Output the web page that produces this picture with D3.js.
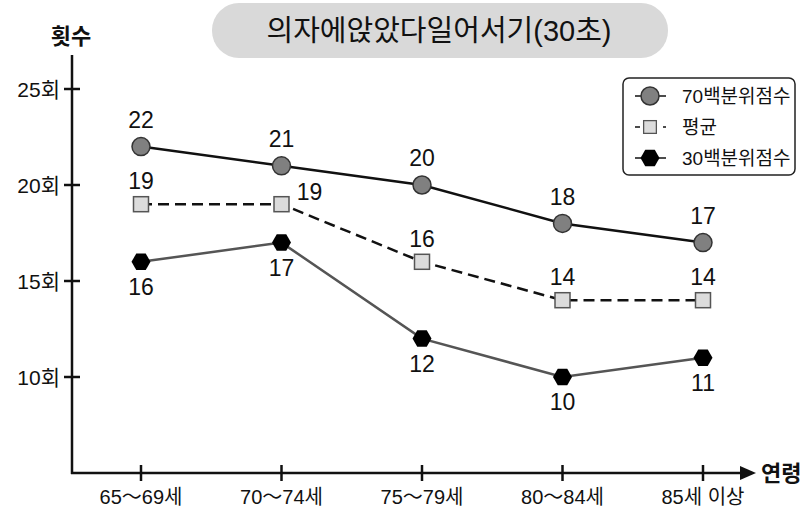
<!DOCTYPE html>
<html>
  <head>
    <meta charset="utf-8" />
    <script src="https://cdnjs.cloudflare.com/ajax/libs/d3/7.8.5/d3.min.js"></script>
    <style>
      body {
        margin: 0;
        background: #fff;
      }
      text {
        font-family: "Liberation Sans", "Noto Sans CJK KR", sans-serif;
        fill: #111;
      }
    </style>
  </head>
  <body>
    <div id="chart"></div>
    <script>
      // 데이터
      const title = "의자에앉았다일어서기(30초)";
      const ages = ["65～69세", "70～74세", "75～79세", "80～84세", "85세 이상"];
      const p70 = [22, 21, 20, 18, 17];
      const avg = [19, 19, 16, 14, 14];
      const p30 = [16, 17, 12, 10, 11];
      const yTicks = [10, 15, 20, 25];
      const seriesNames = ["70백분위점수", "평균", "30백분위점수"];

      const width = 806;
      const height = 511;

      const svg = d3
        .select("#chart")
        .append("svg")
        .attr("width", width)
        .attr("height", height);

      // 스케일
      const x = d3.scalePoint().domain(ages).range([141, 703]);
      const y = d3.scaleLinear().domain([5, 25]).range([473, 89]);

      // 제목 박스
      svg
        .append("rect")
        .attr("x", 212)
        .attr("y", 3)
        .attr("width", 456)
        .attr("height", 55)
        .attr("rx", 27)
        .attr("fill", "#d9d9d9");
      svg
        .append("text")
        .attr("x", 439)
        .attr("y", 31)
        .attr("dy", "0.36em")
        .attr("text-anchor", "middle")
        .style("font-size", "29px")
        .style("font-weight", "400")
        .text(title);

      // 축
      const axisG = svg.append("g").attr("stroke", "#111").attr("stroke-width", 2.5);
      axisG.append("line").attr("x1", 72).attr("x2", 72).attr("y1", 55).attr("y2", 474);
      axisG.append("line").attr("x1", 71).attr("x2", 744).attr("y1", 473).attr("y2", 473);
      svg
        .append("path")
        .attr("d", "M740,466 L756,473 L740,480 Z")
        .attr("fill", "#111");

      yTicks.forEach((t) => {
        axisG.append("line").attr("x1", 64).attr("x2", 80).attr("y1", y(t)).attr("y2", y(t));
        svg
          .append("text")
          .attr("x", 60)
          .attr("y", y(t))
          .attr("dy", "0.36em")
          .attr("text-anchor", "end")
          .style("font-size", "21px")
          .text(t + "회");
      });

      ages.forEach((a) => {
        axisG.append("line").attr("x1", x(a)).attr("x2", x(a)).attr("y1", 465).attr("y2", 481);
        svg
          .append("text")
          .attr("x", x(a))
          .attr("y", 497)
          .attr("dy", "0.36em")
          .attr("text-anchor", "middle")
          .style("font-size", "20px")
          .text(a);
      });

      svg
        .append("text")
        .attr("x", 71)
        .attr("y", 36)
        .attr("dy", "0.36em")
        .attr("text-anchor", "middle")
        .style("font-size", "22px")
        .style("font-weight", "700")
        .text("횟수");
      svg
        .append("text")
        .attr("x", 761)
        .attr("y", 473)
        .attr("dy", "0.36em")
        .style("font-size", "22px")
        .style("font-weight", "700")
        .text("연령");

      // 마커
      const hexPath = (r) => {
        const pts = d3.range(6).map((i) => {
          const a = (Math.PI / 3) * i;
          return [r * Math.cos(a), r * Math.sin(a)];
        });
        return "M" + pts.join("L") + "Z";
      };
      const drawMarker = (g, kind) => {
        if (kind === 0) {
          g.append("circle").attr("r", 9).attr("fill", "#808080").attr("stroke", "#333").attr("stroke-width", 1.5);
        } else if (kind === 1) {
          g.append("rect").attr("x", -7.5).attr("y", -7.5).attr("width", 15).attr("height", 15)
            .attr("fill", "#dcdcdc").attr("stroke", "#555").attr("stroke-width", 1.5);
        } else {
          g.append("path").attr("d", hexPath(9.5)).attr("fill", "#000");
        }
      };

      const series = [
        { values: p70, color: "#111", dash: null, labelDy: -27 },
        { values: avg, color: "#111", dash: "11,6", labelDy: -23 },
        { values: p30, color: "#555", dash: null, labelDy: 25 },
      ];

      const line = d3
        .line()
        .x((d, i) => x(ages[i]))
        .y((d) => y(d));

      series.forEach((s, k) => {
        svg
          .append("path")
          .attr("d", line(s.values))
          .attr("fill", "none")
          .attr("stroke", s.color)
          .attr("stroke-width", 2.5)
          .attr("stroke-dasharray", s.dash);

        s.values.forEach((v, i) => {
          const g = svg.append("g").attr("transform", `translate(${x(ages[i])},${y(v)})`);
          drawMarker(g, k);
          // 평균 70~74세 라벨은 오른쪽에
          const side = k === 1 && i === 1;
          svg
            .append("text")
            .attr("x", x(ages[i]) + (side ? 28 : 0))
            .attr("y", y(v) + (side ? -12 : s.labelDy))
            .attr("dy", "0.36em")
            .attr("text-anchor", "middle")
            .style("font-size", "23px")
            .text(v);
        });
      });

      // 범례
      const legend = svg.append("g").attr("transform", "translate(623,78)");
      legend
        .append("rect")
        .attr("width", 172)
        .attr("height", 97)
        .attr("rx", 6)
        .attr("fill", "#fff")
        .attr("stroke", "#222")
        .attr("stroke-width", 1.5);
      seriesNames.forEach((name, k) => {
        const ly = 18 + k * 31;
        const row = legend.append("g").attr("transform", `translate(0,${ly})`);
        row
          .append("line")
          .attr("x1", 12)
          .attr("x2", 43)
          .attr("stroke", "#111")
          .attr("stroke-width", 1.5)
          .attr("stroke-dasharray", k === 1 ? "5,9" : null);
        const mg = row.append("g").attr("transform", "translate(27,0)");
        drawMarker(mg, k);
        if (k === 1) mg.attr("transform", "translate(27,0) scale(0.85)");
        row
          .append("text")
          .attr("x", 59)
          .attr("dy", "0.36em")
          .style("font-size", "19px")
          .text(name);
      });
    </script>
  </body>
</html>
